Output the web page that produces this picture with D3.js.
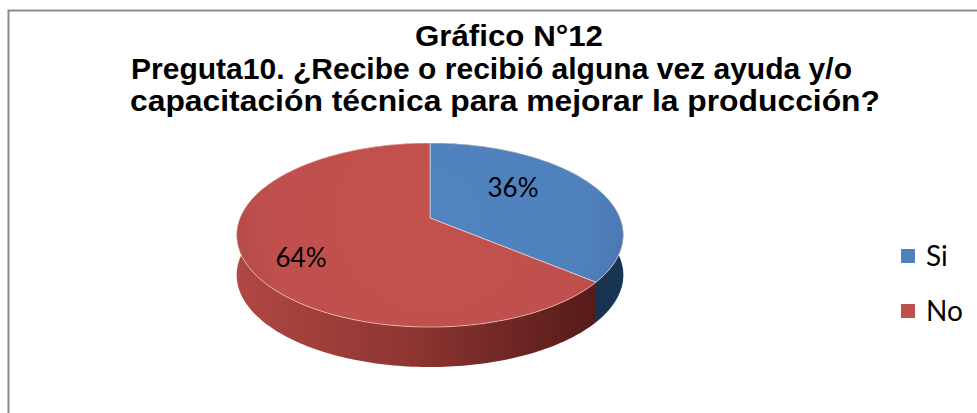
<!DOCTYPE html>
<html>
<head>
<meta charset="utf-8">
<script src="https://cdn.jsdelivr.net/npm/d3@7"></script>
<style>
  body { margin: 0; background: #fff; }
  svg { display: block; }
</style>
</head>
<body>
<div id="chart"></div>
<script>
// data
var categories = ["Si", "No"];
var values = [36, 64];
var colors = ["#4F81BD", "#C0504D"];
var titleLines = [
  "Gráfico N°12",
  "Preguta10. ¿Recibe o recibió alguna vez ayuda y/o",
  "capacitación técnica para mejorar la producción?"
];

var svgWidth = 977;
var svgHeight = 413;

var svg = d3.select("#chart")
  .append("svg")
  .attr("width", svgWidth)
  .attr("height", svgHeight);

var defs = svg.append("defs");

// chart border (runs off the right and bottom of the picture)
svg.append("rect")
  .attr("x", 8.5)
  .attr("y", 10.5)
  .attr("width", 1000)
  .attr("height", 420)
  .attr("fill", "none")
  .attr("stroke", "#8c8c8c")
  .attr("stroke-width", 2);

// title
var titleX = [415, 131, 130];
var titleW = [188, 721, 750];
var titleY = [46, 79, 111];
svg.append("g")
  .selectAll("text")
  .data(titleLines)
  .enter()
  .append("text")
  .attr("x", (d, i) => titleX[i])
  .attr("y", (d, i) => titleY[i])
  .attr("textLength", (d, i) => titleW[i])
  .attr("lengthAdjust", "spacingAndGlyphs")
  .style("font-family", "'Liberation Sans', Arial, sans-serif")
  .style("font-weight", "bold")
  .style("font-size", "29px")
  .attr("fill", "#000")
  .text(d => d);

// 3d pie geometry (perspective projection of a tilted disc)
var cx = 430, cy = 218;
var rx = 190, ry = 88.9, persp = 0.185, depth = 40;

function project(a, dy) {
  var u = Math.sin(a), v = -Math.cos(a);
  var w = 1 - persp * v;
  return [cx + rx * u / w, cy + ry * v / w + (dy || 0)];
}

function rimPoints(a0, a1, dy) {
  var n = Math.max(2, Math.ceil((a1 - a0) / 0.02));
  return d3.range(n + 1).map(i => project(a0 + (a1 - a0) * i / n, dy));
}

var line = d3.line();

var pie = d3.pie().sort(null).value(d => d);
var arcs = pie(values);

// side gradients (same order as categories)
var sideStops = [
  ["#2E4F78", "#1E3A5E", "#16304F", "#1A3453"],
  ["#B04845", "#8E3532", "#5E1F1D", "#4E1816"]
];
var xScale = d3.scaleLinear().domain([0, 1]).range([cx - rx - 5, cx + rx + 5]);
sideStops.forEach(function(stops, i) {
  var g = defs.append("linearGradient")
    .attr("id", "side" + i)
    .attr("gradientUnits", "userSpaceOnUse")
    .attr("x1", xScale(0)).attr("x2", xScale(1))
    .attr("y1", 0).attr("y2", 0);
  g.selectAll("stop")
    .data(stops)
    .enter()
    .append("stop")
    .attr("offset", (d, j) => [0, 0.45, 0.85, 1][j])
    .attr("stop-color", d => d);
});

// top face gradients
colors.forEach(function(c, i) {
  var g = defs.append("radialGradient")
    .attr("id", "top" + i)
    .attr("gradientUnits", "userSpaceOnUse")
    .attr("cx", cx).attr("cy", cy)
    .attr("r", rx);
  g.append("stop").attr("offset", 0).attr("stop-color", d3.color(c).brighter(0.05));
  g.append("stop").attr("offset", 0.85).attr("stop-color", c);
  g.append("stop").attr("offset", 1).attr("stop-color", d3.color(c).darker(0.15));
});

// side walls
svg.append("g")
  .selectAll("path")
  .data(arcs)
  .enter()
  .append("path")
  .attr("d", function(d) {
    var top = rimPoints(d.startAngle, d.endAngle, 0);
    var bottom = rimPoints(d.startAngle, d.endAngle, depth).reverse();
    return line(top.concat(bottom)) + "Z";
  })
  .attr("fill", (d, i) => "url(#side" + i + ")");

// top faces
svg.append("g")
  .selectAll("path")
  .data(arcs)
  .enter()
  .append("path")
  .attr("d", function(d) {
    var pts = [[cx, cy]].concat(rimPoints(d.startAngle, d.endAngle, 0));
    return line(pts) + "Z";
  })
  .attr("fill", (d, i) => "url(#top" + i + ")")
  .attr("stroke", "rgba(255,235,230,0.55)")
  .attr("stroke-width", 1);

// percentage labels
var labelPos = [[513, 197], [301, 267]];
svg.append("g")
  .selectAll("text")
  .data(arcs)
  .enter()
  .append("text")
  .attr("x", (d, i) => labelPos[i][0])
  .attr("y", (d, i) => labelPos[i][1])
  .attr("text-anchor", "middle")
  .style("font-family", "Lato, 'Open Sans', sans-serif")
  .style("font-size", "26px")
  .attr("fill", "#000")
  .text(d => d.data + "%");

// legend
var legendY = d3.scalePoint().domain(categories).range([255, 310]);
var legend = svg.append("g")
  .selectAll("g")
  .data(categories)
  .enter()
  .append("g")
  .attr("transform", d => `translate(901, ${legendY(d)})`);

legend.append("rect")
  .attr("x", 0)
  .attr("y", -6)
  .attr("width", 14)
  .attr("height", 14)
  .attr("fill", (d, i) => colors[i]);

legend.append("text")
  .attr("x", 25)
  .attr("y", 11)
  .style("font-family", "Lato, 'Open Sans', sans-serif")
  .style("font-size", "28px")
  .attr("fill", "#000")
  .text(d => d);
</script>
</body>
</html>
